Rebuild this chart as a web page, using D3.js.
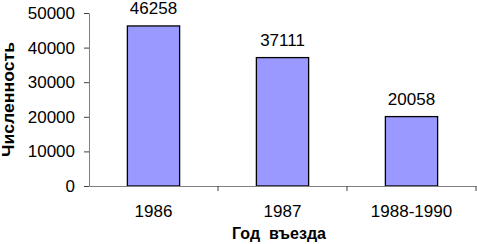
<!DOCTYPE html>
<html>
<head>
<meta charset="utf-8">
<script src="https://cdn.jsdelivr.net/npm/d3@7"></script>
<style>
  body { margin: 0; background: #fff; }
  text { font-family: "Liberation Sans", Arial, sans-serif; }
</style>
</head>
<body>
<div id="chart"></div>
<script>
// data
const categories = ["1986", "1987", "1988-1990"];
const values = [46258, 37111, 20058];
const yTicks = [0, 10000, 20000, 30000, 40000, 50000];

const width = 477, height = 244;
const margin = {top: 13, right: 1, bottom: 58, left: 89};
const fontSize = "17px";

const svg = d3.select("#chart").append("svg")
    .attr("width", width)
    .attr("height", height);

const x = d3.scaleBand()
    .domain(categories)
    .range([margin.left, width - margin.right])
    .padding(0);

const y = d3.scaleLinear()
    .domain([0, 50000])
    .range([height - margin.bottom, margin.top]);

const barW = x.bandwidth() * 0.405;

// bars
svg.selectAll(".bar")
    .data(values)
    .enter().append("rect")
    .attr("class", "bar")
    .attr("x", (d, i) => x(categories[i]) + (x.bandwidth() - barW) / 2)
    .attr("y", d => y(d))
    .attr("width", barW)
    .attr("height", d => y(0) - y(d))
    .attr("fill", "#9999ff")
    .attr("stroke", "#000")
    .attr("stroke-width", 1.3);

// value labels
svg.selectAll(".val")
    .data(values)
    .enter().append("text")
    .attr("class", "val")
    .attr("x", (d, i) => x(categories[i]) + x.bandwidth() / 2)
    .attr("y", d => y(d) - 12)
    .attr("text-anchor", "middle")
    .style("font-size", fontSize)
    .text(d => d);

// y axis
const yAxis = svg.append("g")
    .attr("transform", `translate(${margin.left},0)`)
    .call(d3.axisLeft(y).tickValues(yTicks).tickFormat(d3.format("d"))
        .tickSize(5).tickSizeOuter(0).tickPadding(9));
yAxis.select(".domain").attr("stroke", "#808080");
yAxis.selectAll(".tick line").attr("stroke", "#404040");
yAxis.selectAll("text").style("font-size", fontSize).attr("fill", "#000")
    .style("font-family", "'Liberation Sans', Arial, sans-serif");

// x axis
const xAxis = svg.append("g")
    .attr("transform", `translate(0,${y(0)})`)
    .call(d3.axisBottom(x).tickSize(0).tickPadding(19));
xAxis.select(".domain").attr("stroke", "#808080");
xAxis.selectAll("text").style("font-size", fontSize).attr("fill", "#000")
    .style("font-family", "'Liberation Sans', Arial, sans-serif");

// category boundary ticks
svg.selectAll(".xtick")
    .data(categories)
    .enter().append("line")
    .attr("class", "xtick")
    .attr("x1", d => x(d) + x.bandwidth())
    .attr("x2", d => x(d) + x.bandwidth())
    .attr("y1", y(0))
    .attr("y2", y(0) + 5)
    .attr("stroke", "#404040");

// axis titles
svg.append("text")
    .attr("transform", `translate(14, ${(y(0) + y(50000)) / 2}) rotate(-90)`)
    .attr("text-anchor", "middle")
    .attr("textLength", 115)
    .attr("lengthAdjust", "spacingAndGlyphs")
    .style("font-size", fontSize)
    .style("font-weight", "bold")
    .text("Численность");

svg.append("text")
    .attr("x", 279)
    .attr("y", 239)
    .attr("text-anchor", "middle")
    .style("font-size", "16px")
    .style("font-weight", "bold")
    .style("white-space", "pre")
    .text("Год  въезда");
</script>
</body>
</html>
